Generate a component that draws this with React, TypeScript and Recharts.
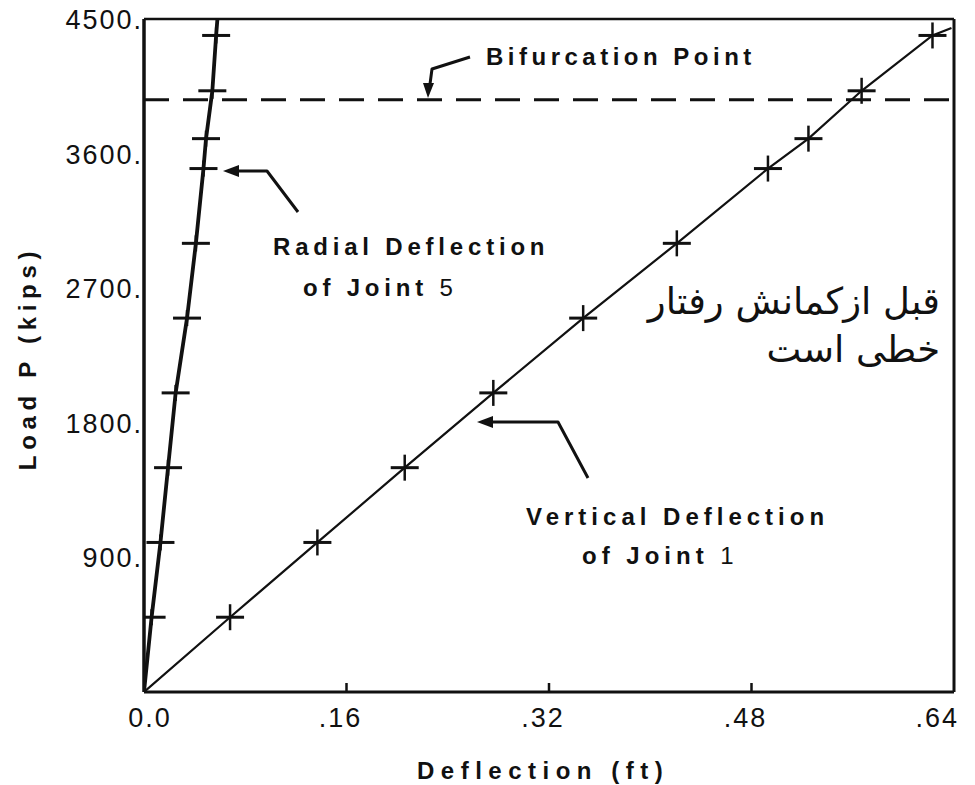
import React from 'react';
import { LineChart, Line, XAxis, YAxis, ReferenceLine } from 'recharts';

// ---- data ----
const loads = [0, 500, 1000, 1500, 2000, 2500, 3000, 3500, 3700, 4020, 4390];
const radialDeflection = [0, 0.006, 0.013, 0.019, 0.025, 0.034, 0.041, 0.047, 0.049, 0.054, 0.057];
const verticalDeflection = [0, 0.068, 0.137, 0.206, 0.276, 0.347, 0.421, 0.493, 0.525, 0.567, 0.623];
const radialLineEnd = { x: 0.058, load: 4500 };
const verticalLineEnd = { x: 0.638, load: 4440 };
const bifurcationLoad = 3960;

const xTicks = [0, 0.16, 0.32, 0.48, 0.64];
const xTickLabels = ['0.0', '.16', '.32', '.48', '.64'];
const yTicks = [900, 1800, 2700, 3600, 4500];
const yTickLabels = ['900.', '1800.', '2700.', '3600.', '4500.'];

const radialData = [
  ...loads.map((p, i) => ({ x: radialDeflection[i], load: p, mark: i > 0 })),
  { x: radialLineEnd.x, load: radialLineEnd.load, mark: false },
];
const verticalData = [
  ...loads.map((p, i) => ({ x: verticalDeflection[i], load: p, mark: i > 0 })),
  { x: verticalLineEnd.x, load: verticalLineEnd.load, mark: false },
];

const INK = '#111';
const BOLD = '"Liberation Sans", Arial, Helvetica, sans-serif';
const PLAIN = '"Liberation Sans", Arial, Helvetica, sans-serif';

const makeCross = (halfW: number, halfH: number) => (props: any) => {
  const { cx, cy, payload, index } = props;
  if (!payload || !payload.mark || cx == null || cy == null) return <g key={`n${index}`} />;
  return (
    <g key={`c${index}`}>
      <line x1={cx - halfW} x2={cx + halfW} y1={cy} y2={cy} stroke={INK} strokeWidth={3} />
      <line x1={cx} x2={cx} y1={cy - halfH} y2={cy + halfH} stroke={INK} strokeWidth={2.5} />
    </g>
  );
};

const XTick = (props: any) => {
  const { x, y, payload } = props;
  const v = payload.value;
  const idx = xTicks.indexOf(v);
  const label = idx >= 0 ? xTickLabels[idx] : String(v);
  let anchor: any = 'middle';
  let dx = -6;
  if (idx === 0) dx = 6;
  if (idx === xTicks.length - 1) {
    anchor = 'end';
    dx = 5;
  }
  const inner = idx > 0 && idx < xTicks.length - 1;
  return (
    <g>
      {inner && <line x1={x} x2={x} y1={y} y2={y - 9} stroke={INK} strokeWidth={2.5} />}
      <text x={x + dx} y={y + 35} textAnchor={anchor} fontFamily={PLAIN} fontSize={27} letterSpacing={2} fill={INK}>
        {label}
      </text>
    </g>
  );
};

const YTick = (props: any) => {
  const { x, y, payload } = props;
  const idx = yTicks.indexOf(payload.value);
  const label = idx >= 0 ? yTickLabels[idx] : String(payload.value);
  return (
    <text x={x - 1} y={y + 10} textAnchor="end" fontFamily={PLAIN} fontSize={27} letterSpacing={2} fill={INK}>
      {label}
    </text>
  );
};

export default function App() {
  return (
    <div style={{ position: 'absolute', left: 0, top: 0, width: 975, height: 785, background: '#fff' }}>
      <LineChart width={975} height={785} margin={{ top: 19, right: 21, bottom: 0, left: 0 }}>
        <XAxis
          type="number"
          dataKey="x"
          domain={[0, 0.64]}
          ticks={xTicks}
          allowDataOverflow
          height={93}
          tickSize={0}
          tickMargin={0}
          tick={<XTick />}
          axisLine={{ stroke: INK, strokeWidth: 3 }}
          tickLine={false}
        />
        <YAxis
          type="number"
          dataKey="load"
          domain={[0, 4500]}
          ticks={yTicks}
          allowDataOverflow
          width={144}
          tickSize={0}
          tickMargin={0}
          tick={<YTick />}
          axisLine={{ stroke: INK, strokeWidth: 3.5 }}
          tickLine={false}
        />
        <ReferenceLine y={4500} stroke={INK} strokeWidth={2.5} ifOverflow="visible" />
        <ReferenceLine x={0.64} stroke={INK} strokeWidth={3} ifOverflow="visible" />
        <ReferenceLine y={bifurcationLoad} stroke={INK} strokeWidth={3} strokeDasharray="25 14" ifOverflow="visible" />
        <Line
          data={radialData}
          dataKey="load"
          type="linear"
          stroke={INK}
          strokeWidth={3.8}
          dot={makeCross(14, 8)}
          activeDot={false}
          isAnimationActive={false}
        />
        <Line
          data={verticalData}
          dataKey="load"
          type="linear"
          stroke={INK}
          strokeWidth={2.2}
          dot={makeCross(14, 13)}
          activeDot={false}
          isAnimationActive={false}
        />
      </LineChart>

      <svg
        width={975}
        height={785}
        style={{ position: 'absolute', left: 0, top: 0, pointerEvents: 'none' }}
      >
        <g fontFamily={BOLD} fontWeight="bold" fontSize={24} fill={INK}>
          <text x={36} y={358} transform="rotate(-90 36 358)" textAnchor="middle" letterSpacing={5.7}>
            Load P (kips)
          </text>
          <text x={417} y={779} letterSpacing={6.5}>
            Deflection (ft)
          </text>
          <text x={486} y={65} letterSpacing={4.5}>
            Bifurcation Point
          </text>
          <text x={273} y={255} letterSpacing={4.8}>
            Radial Deflection
          </text>
          <text x={303} y={296} letterSpacing={4.8}>
            of Joint <tspan fontWeight="normal">5</tspan>
          </text>
          <text x={526} y={525} letterSpacing={5}>
            Vertical Deflection
          </text>
          <text x={582} y={564} letterSpacing={5}>
            of Joint <tspan fontWeight="normal">1</tspan>
          </text>
        </g>
        <g stroke={INK} strokeWidth={3} fill="none" strokeLinejoin="round">
          <polyline points="470,57 432,69 430,84" />
          <polyline points="238,171 267,171 298,212" />
          <polyline points="492,422 558,422 588,478" />
        </g>
        <g fill={INK}>
          <polygon points="428,98 423,83 434,83" />
          <polygon points="223,171 239,165 239,177" />
          <polygon points="477,422 493,416 493,428" />
        </g>
      </svg>

      <div
        dir="rtl"
        style={{
          position: 'absolute',
          right: 35,
          top: 278,
          width: 340,
          textAlign: 'right',
          fontFamily: '"DejaVu Sans", "Noto Sans", sans-serif',
          fontSize: 37,
          lineHeight: '48px',
          color: INK,
        }}
      >
        <div>قبل ازکمانش رفتار</div>
        <div>خطی است</div>
      </div>
    </div>
  );
}
